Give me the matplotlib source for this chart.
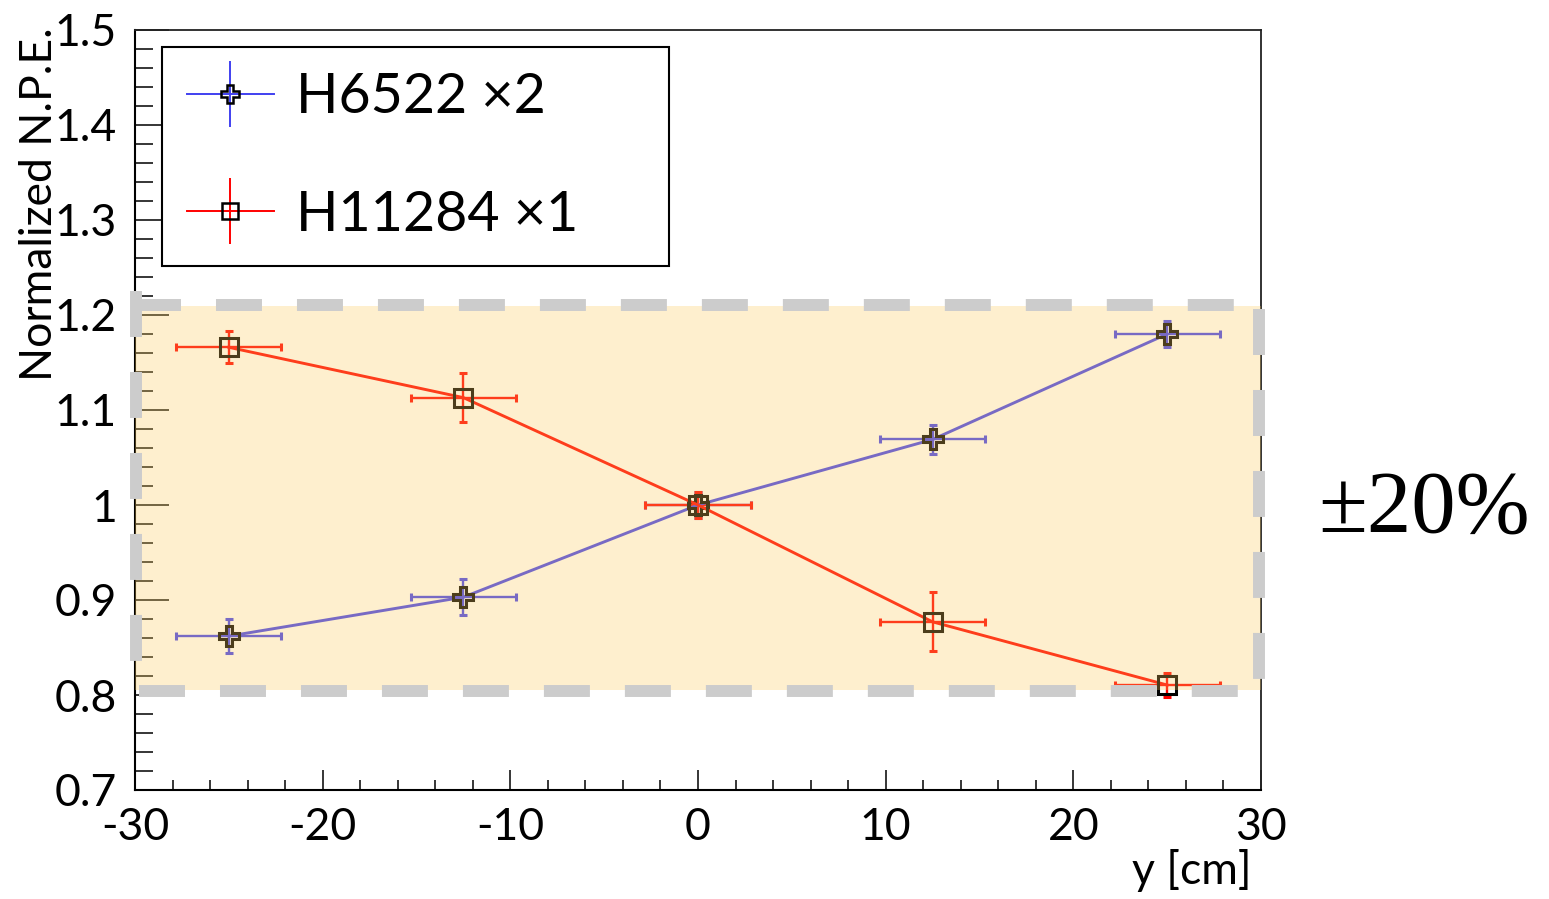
import matplotlib
matplotlib.use('Agg')
import matplotlib.pyplot as plt
from matplotlib.lines import Line2D
from matplotlib.legend_handler import HandlerTuple
from matplotlib.ticker import MultipleLocator, FormatStrFormatter

plt.rcParams['font.family'] = ['Lato', 'DejaVu Sans']
plt.rcParams['axes.unicode_minus'] = False

# data
pos_y = [-25, -12.5, 0, 12.5, 25]
pos_err = [2.8, 2.8, 2.8, 2.8, 2.8]

h6522 = [0.862, 0.903, 1.0, 1.069, 1.180]
h6522_err = [0.018, 0.019, 0.014, 0.0155, 0.0135]

h11284 = [1.166, 1.113, 1.0, 0.877, 0.8105]
h11284_err = [0.017, 0.0255, 0.014, 0.031, 0.013]

labels = ['H6522 \u00d72', 'H11284 \u00d71']
band_lo, band_hi = 0.805, 1.209
band_text = '\u00b120%'

blue = '#4040f0'
red = '#ff0000'

fig = plt.figure(figsize=(15.49, 8.99), dpi=100)
ax = fig.add_axes([135/1549, 1-790/899, 1126/1549, 760/899])

ax.errorbar(pos_y, h6522, xerr=pos_err, yerr=h6522_err, color=blue, lw=2.1,
            elinewidth=1.7, capsize=3, capthick=1.7, marker='P', ms=14,
            mfc='none', mec='black', mew=2.2, zorder=2)
ax.errorbar(pos_y, h11284, xerr=pos_err, yerr=h11284_err, color=red, lw=2.1,
            elinewidth=1.7, capsize=3, capthick=1.7, marker='s', ms=12.5,
            mfc='none', mec='black', mew=2.2, zorder=2)

ax.set_xlim(-30, 30)
ax.set_ylim(0.7, 1.5)

# yellow band drawn on top (semi transparent) + gray dashed frame
ax.axhspan(band_lo, band_hi, facecolor='#fccd5f', alpha=0.3, lw=0, zorder=3)
dash = dict(color='#cccccc', lw=8.6, ls=(0, (3.85, 2.93)), zorder=4,
            clip_on=False, solid_capstyle='butt', dash_capstyle='butt')
ax.plot([-30, 30], [band_hi + 0.002, band_hi + 0.002], **dash)
ax.plot([-29.8, 30], [band_lo - 0.001, band_lo - 0.001], **dash)
ax.plot([-29.95, -29.95], [band_hi + 0.016, band_lo], **dash)
ax.plot([29.89, 29.89], [band_hi - 0.003, band_lo], **dash)

ax.xaxis.set_major_locator(MultipleLocator(10))
ax.xaxis.set_minor_locator(MultipleLocator(2))
ax.yaxis.set_major_locator(MultipleLocator(0.1))
ax.yaxis.set_minor_locator(MultipleLocator(0.02))
ax.xaxis.set_major_formatter(FormatStrFormatter('%g'))
ax.yaxis.set_major_formatter(FormatStrFormatter('%g'))

ax.tick_params(axis='both', which='both', direction='in', top=False, right=False,
               width=1.1, color='black', labelsize=32, pad=13)
ax.tick_params(axis='x', which='major', length=14.4)
ax.tick_params(axis='x', which='minor', length=7.2)
ax.tick_params(axis='y', which='major', length=24.5)
ax.tick_params(axis='y', which='minor', length=13)
ax.tick_params(axis='x', which='major', pad=12)

for s in ['left', 'bottom']:
    ax.spines[s].set_linewidth(1.5)
for s in ['top', 'right']:
    ax.spines[s].set_linewidth(1.3)
    ax.spines[s].set_color('#222222')

ax.set_ylabel('Normalized N.P.E.', fontsize=32, loc='top')
ax.yaxis.set_label_coords(-0.067, 1.003)
ax.set_xlabel('y [cm]', fontsize=32, loc='right')
ax.xaxis.set_label_coords(0.992, -0.078)

# legend
hand = []
for c, m, ms in [(blue, 'P', 13), (red, 's', 12)]:
    vbar = Line2D([], [], color=c, marker='|', ms=47, mew=1.4, ls='none')
    main = Line2D([], [], color=c, lw=1.4, marker=m, ms=ms, mfc='none',
                  mec='black', mew=1.8)
    hand.append((vbar, main))
leg = ax.legend(hand, labels, handler_map={tuple: HandlerTuple(ndivide=1)},
                loc='upper left', bbox_to_anchor=(0.024, 0.6895, 0.4503, 0.288),
                mode='expand', borderaxespad=0, fontsize=40, handlelength=1.56,
                handletextpad=0.4, borderpad=0.45, labelspacing=1.2,
                fancybox=False, framealpha=1, edgecolor='black')
leg.get_frame().set_linewidth(1.5)
leg.set_zorder(5)

fig.text(1318/1549, 1-532/899, band_text, family='Liberation Serif', fontsize=64,
         va='baseline', ha='left')

fig.savefig('out.png', dpi=100)
